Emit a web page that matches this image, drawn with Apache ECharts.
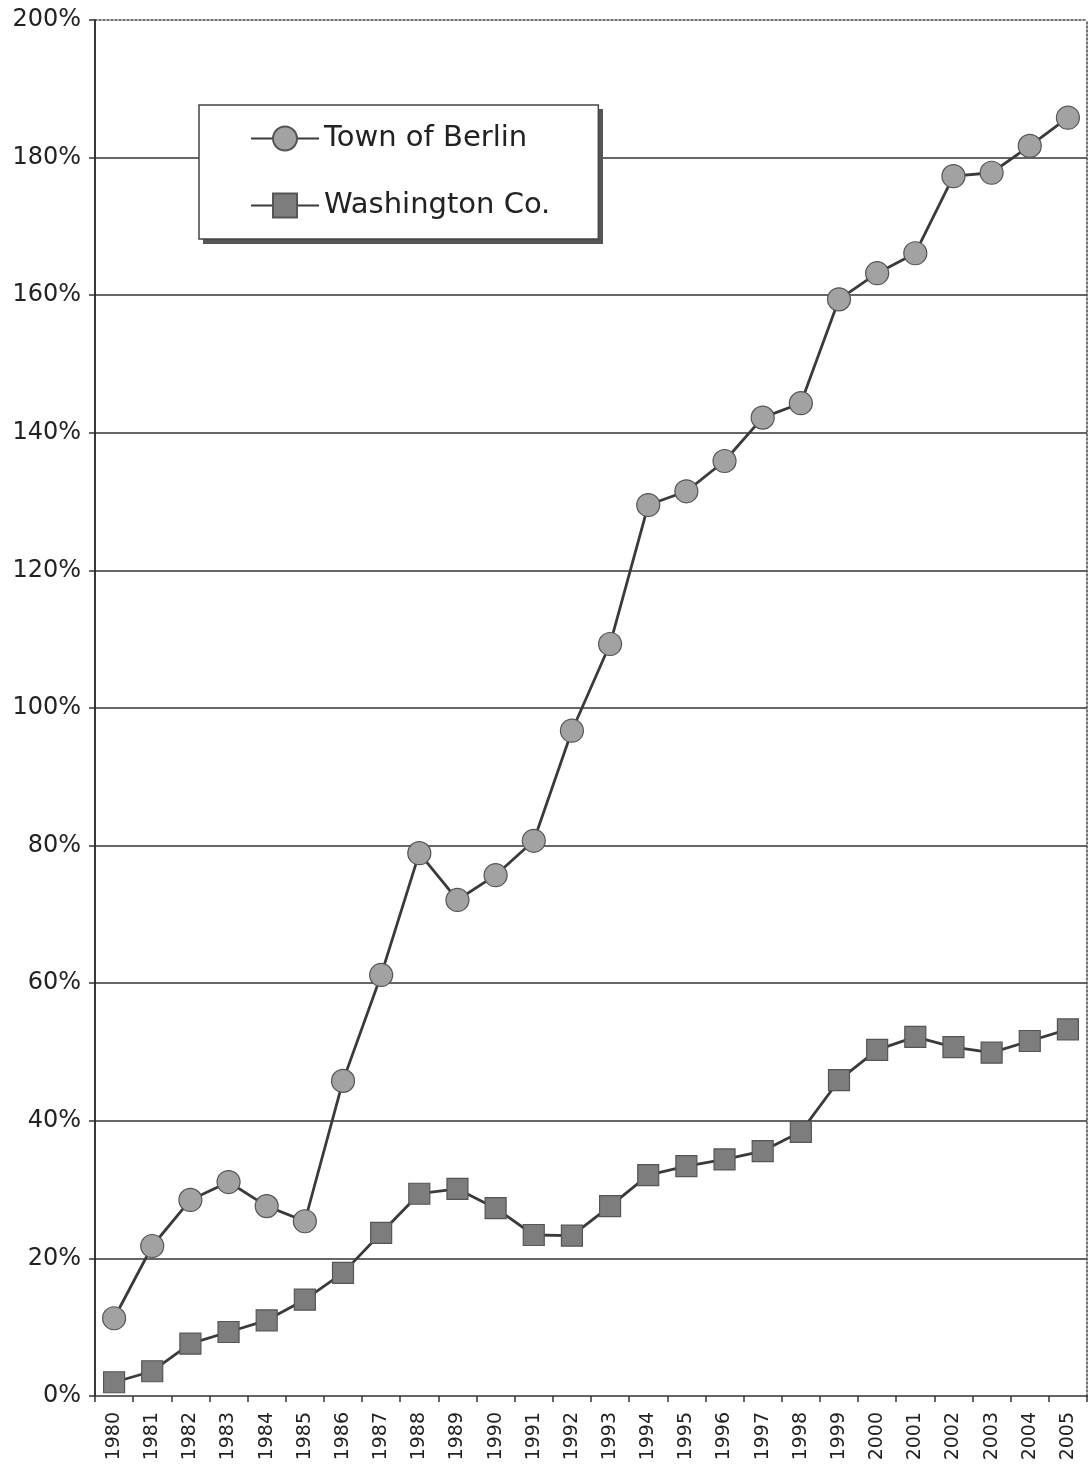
<!DOCTYPE html>
<html>
<head>
<meta charset="utf-8">
<script src="https://cdn.jsdelivr.net/npm/echarts@6/dist/echarts.min.js"></script>
<style>
html,body{margin:0;padding:0;background:#fff;}
#chart{width:1089px;height:1469px;}
</style>
</head>
<body>
<div id="chart"></div>
<script>
var years = ['1980','1981','1982','1983','1984','1985','1986','1987','1988','1989','1990','1991','1992','1993','1994','1995','1996','1997','1998','1999','2000','2001','2002','2003','2004','2005'];
var berlin = [11.3,21.8,28.5,31.1,27.6,25.4,45.8,61.2,78.9,72.1,75.7,80.7,96.7,109.3,129.5,131.5,135.9,142.2,144.3,159.4,163.2,166.1,177.3,177.8,181.7,185.8];
var washington = [2.0,3.6,7.6,9.3,11.0,14.0,17.9,23.7,29.4,30.1,27.3,23.4,23.3,27.6,32.1,33.4,34.4,35.6,38.4,45.9,50.3,52.2,50.7,49.9,51.6,53.3];
var seriesNames = ['Town of Berlin','Washington Co.'];

var font = 'DejaVu Sans, Verdana, sans-serif';
var chart = echarts.init(document.getElementById('chart'));
chart.setOption({
  animation: false,
  backgroundColor: '#ffffff',
  grid: {left: 95, right: 2, top: 20, bottom: 73, containLabel: false},
  graphic: [{
    type: 'rect', z: 3, silent: true,
    shape: {x: 203, y: 109, width: 400, height: 135},
    style: {fill: '#555555'}
  }],
  legend: {
    orient: 'vertical',
    left: 199, top: 105, z: 5,
    padding: [18, 48, 18, 51],
    itemWidth: 68, itemHeight: 30, itemGap: 36,
    backgroundColor: '#ffffff',
    borderColor: '#444', borderWidth: 1.5, borderRadius: 0,
    textStyle: {fontFamily: font, fontSize: 29, color: '#222', lineHeight: 31},
    data: seriesNames
  },
  xAxis: [{
    type: 'category', data: years, boundaryGap: true, position: 'bottom',
    axisLine: {onZero: false, lineStyle: {color: '#333', width: 1.5}},
    axisTick: {show: true, length: 6, lineStyle: {color: '#333', width: 1.5}},
    axisLabel: {rotate: 90, margin: 16, fontFamily: font, fontSize: 19, color: '#222'},
    splitLine: {show: false}
  }, {
    type: 'category', data: years, position: 'top',
    axisLine: {show: true, onZero: false, lineStyle: {color: '#444', width: 1.5, type: [2, 2]}},
    axisTick: {show: false}, axisLabel: {show: false}, splitLine: {show: false}
  }],
  yAxis: [{
    type: 'value', min: 0, max: 200, interval: 20,
    axisLine: {show: true, lineStyle: {color: '#222', width: 1.8}},
    axisTick: {show: true, length: 6, lineStyle: {color: '#333', width: 1.5}},
    axisLabel: {margin: 14, fontFamily: font, fontSize: 24, color: '#222', formatter: '{value}%'},
    splitLine: {show: true, showMaxLine: false, showMinLine: false, lineStyle: {color: '#333', width: 1.5}}
  }, {
    type: 'value', min: 0, max: 200, interval: 20, position: 'right',
    axisLine: {show: true, lineStyle: {color: '#444', width: 1.5, type: [2, 2]}},
    axisTick: {show: false}, axisLabel: {show: false}, splitLine: {show: false}
  }],
  series: [{
    name: seriesNames[0], type: 'line', data: berlin,
    symbol: 'circle', symbolSize: 23,
    lineStyle: {color: '#3a3a3a', width: 2.8},
    itemStyle: {color: '#a2a2a2', borderColor: '#555', borderWidth: 1.2},
    z: 3
  }, {
    name: seriesNames[1], type: 'line', data: washington,
    symbol: 'rect', symbolSize: 21,
    lineStyle: {color: '#3a3a3a', width: 2.8},
    itemStyle: {color: '#7d7d7d', borderColor: '#555', borderWidth: 1.2},
    z: 3
  }]
});
</script>
</body>
</html>
